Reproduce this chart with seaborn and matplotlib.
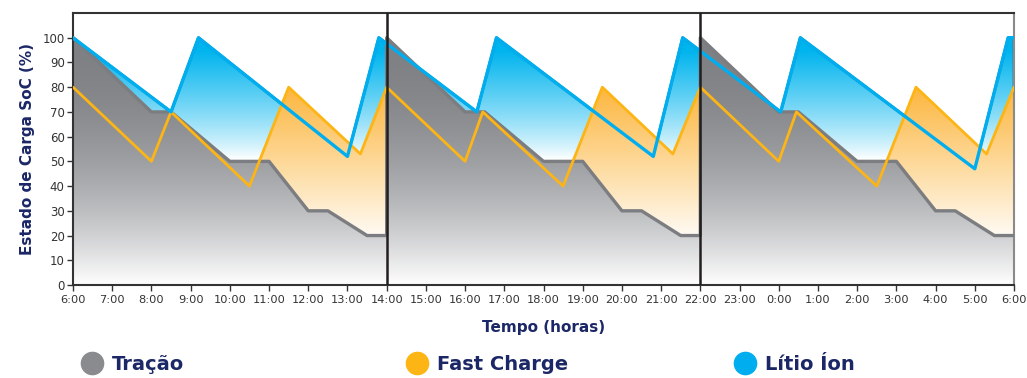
import numpy as np
import matplotlib
matplotlib.use("Agg")
import matplotlib.pyplot as plt
from matplotlib.colors import to_rgb
from matplotlib.lines import Line2D
import seaborn as sns
import pandas as pd

sns.set_theme(style="white")
plt.rcParams["font.family"] = ["DejaVu Sans"]

# Hours elapsed since 6:00 and state of charge (%) for each battery type
tracao_t = [0, 2, 2.5, 4, 5, 6, 6.5, 7.5, 8,
            8, 10, 10.5, 12, 13, 14, 14.5, 15.5, 16,
            16, 18, 18.5, 20, 21, 22, 22.5, 23.5, 24]
tracao_soc = [100, 70, 70, 50, 50, 30, 30, 20, 20,
              100, 70, 70, 50, 50, 30, 30, 20, 20,
              100, 70, 70, 50, 50, 30, 30, 20, 20]

fast_t = [0, 2, 2.5, 4.5, 5.5, 7.33, 8,
          10, 10.45, 12.5, 13.5, 15.3, 16,
          18, 18.45, 20.5, 21.5, 23.3, 24]
fast_soc = [80, 50, 70, 40, 80, 53, 80,
            50, 70, 40, 80, 53, 80,
            50, 70, 40, 80, 53, 80]

litio_t = [0, 2.5, 3.2, 7.0, 7.8, 10.3, 10.8, 14.8, 15.55,
           18.05, 18.55, 23.0, 23.85, 24]
litio_soc = [100, 70, 100, 52, 100, 70, 100, 52, 100,
             70, 100, 47, 100, 100]

hour_labels = ["6:00", "7:00", "8:00", "9:00", "10:00", "11:00", "12:00", "13:00",
               "14:00", "15:00", "16:00", "17:00", "18:00", "19:00", "20:00", "21:00",
               "22:00", "23:00", "0:00", "1:00", "2:00", "3:00", "4:00", "5:00", "6:00"]
shift_changes = [8, 16]
series_names = ["Tração", "Fast Charge", "Lítio Íon"]

GRAY = "#7C7D80"
ORANGE = "#FDB515"
BLUE = "#00AEEF"
NAVY = "#1B2766"

fig = plt.figure(figsize=(10.27, 3.78), dpi=100)
ax = fig.add_axes([73 / 1027, 1 - 285 / 378, (1014 - 73) / 1027, (285 - 13) / 378])
ax.set_xlim(0, 24)
ax.set_ylim(0, 110)


def gradient_fill(t, v, top_color, weight, zorder, edge=None, edge_lw=0):
    """Fill under a curve with a vertical fade from top_color to white."""
    poly = ax.fill_between(t, v, 0, facecolor="none",
                           edgecolor=edge if edge else "none",
                           linewidth=edge_lw, zorder=zorder + 0.1)
    ys = np.linspace(0, 110, 440)
    f = np.clip(weight(ys), 0, 1)[:, None]
    c = np.array(to_rgb(top_color))[None, :]
    img = (1 - f) * 1.0 + f * c
    img = img[:, None, :]
    im = ax.imshow(img, extent=[0, 24, 0, 110], origin="lower",
                   aspect="auto", zorder=zorder, interpolation="bilinear")
    im.set_clip_path(poly.get_paths()[0], transform=ax.transData)
    return poly


# Fills: lithium at the back, fast charge above it, traction in front
gradient_fill(litio_t, litio_soc, "#00B4EE",
              lambda y: np.clip((y - 51) / (95 - 51), 0, 1) ** 0.85, zorder=1,
              edge="#1E7F9A", edge_lw=2.0)
gradient_fill(fast_t, fast_soc, "#FCB63E",
              lambda y: (y - 16) / (80 - 16), zorder=1.2)
gradient_fill(tracao_t, tracao_soc, "#7E8084",
              lambda y: 1 - (1 - y / 100) ** 2, zorder=1.4)

# Outlines of each series
df_tr = pd.DataFrame({"t": tracao_t, "soc": tracao_soc})
df_fc = pd.DataFrame({"t": fast_t, "soc": fast_soc})
df_li = pd.DataFrame({"t": litio_t, "soc": litio_soc})
sns.lineplot(data=df_tr, x="t", y="soc", sort=False, ax=ax, color=GRAY,
             lw=2.4, zorder=3, estimator=None)
sns.lineplot(data=df_fc, x="t", y="soc", sort=False, ax=ax, color=ORANGE,
             lw=2.0, zorder=3.1, estimator=None)
sns.lineplot(data=df_li, x="t", y="soc", sort=False, ax=ax, color=BLUE,
             lw=2.4, zorder=3.2, estimator=None)

# Shift change markers
for s in shift_changes:
    ax.axvline(s, color="#231F20", lw=1.8, zorder=4)

# Axes styling
for side in ["left", "top", "bottom"]:
    ax.spines[side].set_color("#333333")
    ax.spines[side].set_linewidth(1.5)
ax.spines["right"].set_color("#8A8A8A")
ax.spines["right"].set_linewidth(1.5)

ax.set_yticks(range(0, 101, 10))
ax.set_xticks(range(0, 25))
ax.set_xticklabels(hour_labels)
ax.tick_params(axis="both", which="both", direction="out", length=4, width=1,
               color="#333333", labelcolor="#333333", bottom=True, left=True)
ax.tick_params(axis="x", labelsize=8.2, pad=3)
ax.tick_params(axis="y", labelsize=8.5, pad=2)

ax.set_xlabel("Tempo (horas)", fontsize=11, fontweight="bold", color=NAVY, labelpad=11)
ax.set_ylabel("Estado de Carga SoC (%)", fontsize=11, fontweight="bold", color=NAVY,
              labelpad=5)

# Legend along the bottom
handles = [Line2D([], [], marker="o", ls="none", markersize=16,
                  markerfacecolor=c, markeredgecolor=c)
           for c in ["#8A8B8E", "#FDB515", "#00AEEF"]]
leg_x = [80 / 1027, 405 / 1027, 733 / 1027]
for h, name, x in zip(handles, series_names, leg_x):
    fig.legend([h], [name], loc="center left", bbox_to_anchor=(x, 1 - 364 / 378),
               frameon=False, handletextpad=0.45, borderpad=0, borderaxespad=0,
               handlelength=1.2, prop={"size": 14, "weight": "bold"},
               labelcolor=NAVY)

fig.savefig("out.png", dpi=100)
